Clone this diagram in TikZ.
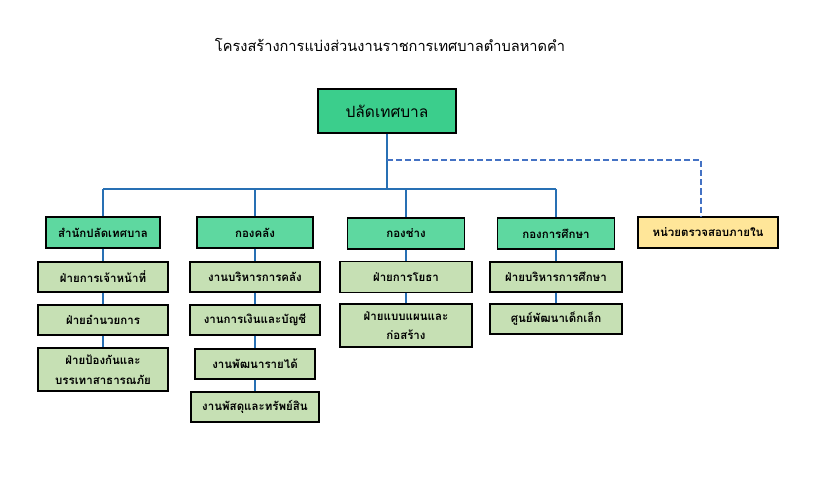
\documentclass[tikz,border=0pt]{standalone}
\usepackage{fontspec}
\setmainfont[Script=Thai]{Loma}
\newfontfamily\thaifont[Script=Thai]{Loma}
\begin{document}
\begin{tikzpicture}[x=1pt,y=-1pt,
  box/.style={draw=black,line width=1.3pt,inner sep=0pt,align=center,font=\thaifont\bfseries\fontsize{11.5}{19.5}\selectfont},
  topbox/.style={box,fill=topgreen,minimum width=138pt,minimum height=44pt,font=\thaifont\fontsize{15.5}{18}\selectfont},
  deptbox/.style={box,fill=deptgreen,minimum height=31pt},
  subbox/.style={box,fill=subgreen,minimum height=30pt},
  auditbox/.style={box,fill=audityellow,minimum height=31pt},
  link/.style={draw=linkblue,line width=2pt},
  dlink/.style={draw=dashblue,line width=2pt,dash pattern=on 6pt off 3pt}]
\definecolor{topgreen}{RGB}{59,206,140}
\definecolor{deptgreen}{RGB}{94,216,160}
\definecolor{subgreen}{RGB}{198,224,180}
\definecolor{audityellow}{RGB}{255,230,153}
\definecolor{linkblue}{RGB}{40,112,180}
\definecolor{dashblue}{RGB}{68,114,196}
\useasboundingbox[fill=white] (0,0) rectangle (821,497);

\coordinate (bus) at (387,189);
\coordinate (dash) at (387,160.5);

\node[font=\thaifont\fontsize{14.6}{17}\selectfont] (title) at (390,45) {โครงสร้างการแบ่งส่วนงานราชการเทศบาลตำบลหาดคำ};

\node[topbox] (top) at (387,111) {ปลัดเทศบาล};

\node[deptbox,minimum width=114pt] (d1) at (103,232.5) {สำนักปลัดเทศบาล};
\node[deptbox,minimum width=116pt] (d2) at (255,232.5) {กองคลัง};
\node[deptbox,minimum width=117pt] (d3) at (406,233.5) {กองช่าง};
\node[deptbox,minimum width=117pt] (d4) at (556,233.5) {กองการศึกษา};
\node[auditbox,minimum width=140pt] (d5) at (708,232.5) {หน่วยตรวจสอบภายใน};

\node[subbox,minimum width=130pt] (s11) at (103,277) {ฝ่ายการเจ้าหน้าที่};
\node[subbox,minimum width=130pt] (s12) at (103,320) {ฝ่ายอำนวยการ};
\node[subbox,minimum width=130pt,minimum height=43pt] (s13) at (103,369.5) {ฝ่ายป้องกันและ\\บรรเทาสาธารณภัย};

\node[subbox,minimum width=130pt] (s21) at (255,277) {งานบริหารการคลัง};
\node[subbox,minimum width=130pt] (s22) at (255,320) {งานการเงินและบัญชี};
\node[subbox,minimum width=120pt] (s23) at (255,364) {งานพัฒนารายได้};
\node[subbox,minimum width=128pt] (s24) at (255,407) {งานพัสดุและทรัพย์สิน};

\node[subbox,minimum width=132pt,minimum height=31pt] (s31) at (406,277) {ฝ่ายการโยธา};
\node[subbox,minimum width=132pt,minimum height=43pt] (s32) at (406,325.5) {ฝ่ายแบบแผนและ\\ก่อสร้าง};

\node[subbox,minimum width=132pt] (s41) at (556,277) {ฝ่ายบริหารการศึกษา};
\node[subbox,minimum width=132pt] (s42) at (556,319) {ศูนย์พัฒนาเด็กเล็ก};

\path[link] (top.south) -- (bus);
\path[link] (bus -| d1.north) -- (bus -| d4.north);
\foreach \d in {d1,d2,d3,d4} {\path[link] (bus -| \d.north) -- (\d.north);}
\path[dlink] (dash) -| ([xshift=-7pt]d5.north);

\path[link] (d1.south) -- (s11.north);
\path[link] (s11.south) -- (s12.north);
\path[link] (s12.south) -- (s13.north);
\path[link] (d2.south) -- (s21.north);
\path[link] (s21.south) -- (s22.north);
\path[link] (s22.south) -- (s23.north);
\path[link] (s23.south) -- (s24.north);
\path[link] (d3.south) -- (s31.north);
\path[link] (s31.south) -- (s32.north);
\path[link] (d4.south) -- (s41.north);
\path[link] (s41.south) -- (s42.north);
\end{tikzpicture}
\end{document}
